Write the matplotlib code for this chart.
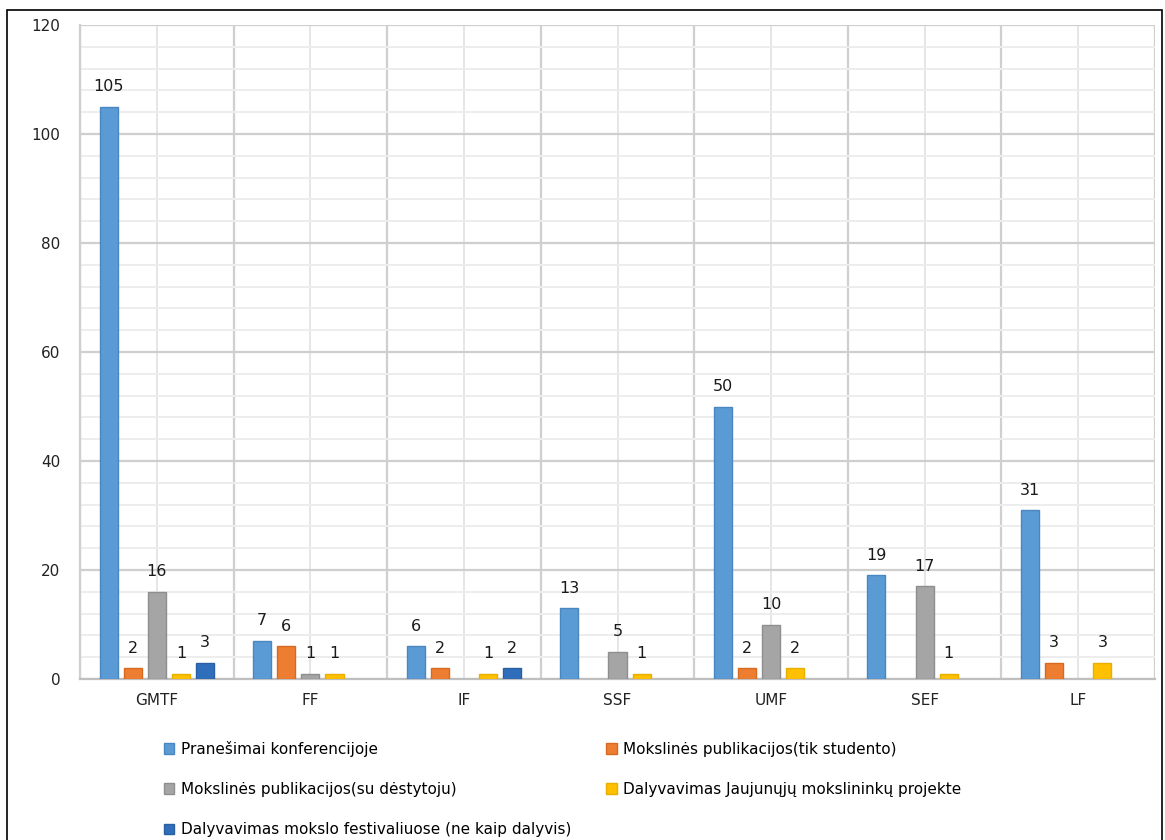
import numpy as np
import matplotlib
matplotlib.use("Agg")
import matplotlib.pyplot as plt
from matplotlib.patches import Rectangle
from matplotlib.ticker import MultipleLocator

categories = ["GMTF", "FF", "IF", "SSF", "UMF", "SEF", "LF"]
series_names = [
    "Pranešimai konferencijoje",
    "Mokslinės publikacijos(tik studento)",
    "Mokslinės publikacijos(su dėstytoju)",
    "Dalyvavimas Jaujunųjų mokslininkų projekte",
    "Dalyvavimas mokslo festivaliuose (ne kaip dalyvis)",
]
pranesimai = [105, 7, 6, 13, 50, 19, 31]
publ_tik_studento = [2, 6, 2, np.nan, 2, np.nan, 3]
publ_su_destytoju = [16, 1, np.nan, 5, 10, 17, np.nan]
jaunuju_projekte = [1, 1, 1, 1, 2, 1, 3]
festivaliuose = [3, np.nan, 2, np.nan, np.nan, np.nan, np.nan]
series = [pranesimai, publ_tik_studento, publ_su_destytoju, jaunuju_projekte, festivaliuose]

colors = ["#5B9BD5", "#ED7D31", "#A5A5A5", "#FFC000", "#2F6EBA"]
edges = ["#4A86C0", "#D86A20", "#8E8E8E", "#E8AE00", "#2A5FA0"]

plt.rcParams['font.family'] = ['DejaVu Sans']
fig = plt.figure(figsize=(11.65, 8.4), dpi=100)
ax = fig.add_axes([80/1165, 1-679/840, 1075/1165, 654/840])

n = len(categories)
x = np.arange(n)
slot = 0.157
width = 0.118
for i, (vals, c, ec, name) in enumerate(zip(series, colors, edges, series_names)):
    pos = x + (i - 2) * slot
    v = np.array(vals, dtype=float)
    ax.bar(pos, v, width=width, color=c, edgecolor=ec, linewidth=1, label=name, zorder=3)
    for p, val in zip(pos, v):
        if not np.isnan(val):
            ax.annotate(f"{int(val)}", (p, val), xytext=(0, 9), textcoords="offset points",
                        ha="center", va="bottom", fontsize=11.5, color="#1a1a1a")

ax.set_xlim(-0.5, n - 0.5)
ax.set_ylim(0, 120)
ax.yaxis.set_major_locator(MultipleLocator(20))
ax.yaxis.set_minor_locator(MultipleLocator(4))
ax.set_xticks(x)
ax.set_xticklabels(categories)
ax.set_xticks(np.arange(n + 1) - 0.5, minor=True)
ax.grid(axis='y', which='major', color="#CFCFCF", linewidth=1.6, zorder=0)
ax.grid(axis='y', which='minor', color="#EDEDED", linewidth=1.4, zorder=0)
ax.grid(axis='x', which='minor', color="#CFCFCF", linewidth=1.6, zorder=0)
ax.grid(axis='x', which='major', color="#E6E6E6", linewidth=1.4, zorder=0)
ax.tick_params(axis='both', which='both', length=0)
ax.tick_params(axis='x', pad=10, labelsize=11, colors="#222222")
ax.tick_params(axis='y', pad=14, labelsize=11, colors="#222222")
for s in ["top", "right"]:
    ax.spines[s].set_visible(False)
ax.spines["left"].set_color("#CFCFCF")
ax.spines["left"].set_linewidth(1.6)
ax.spines["bottom"].set_color("#BFBFBF")
ax.spines["bottom"].set_linewidth(1.6)

handles, labels = ax.get_legend_handles_labels()
order = [0, 2, 4, 1, 3]
leg = fig.legend([handles[k] for k in order], [labels[k] for k in order], ncol=2,
                 loc="upper left", bbox_to_anchor=(150/1165, 1-727/840), frameon=False,
                 fontsize=11, handlelength=0.7, handleheight=0.7, handletextpad=0.4,
                 columnspacing=2.3, labelspacing=1.66)

fig.add_artist(Rectangle((7/1165, -0.05), 1155/1165, 1.05 - 10/840, transform=fig.transFigure,
                         fill=False, edgecolor="black", linewidth=1.2))
fig.savefig("out.png", dpi=100)
